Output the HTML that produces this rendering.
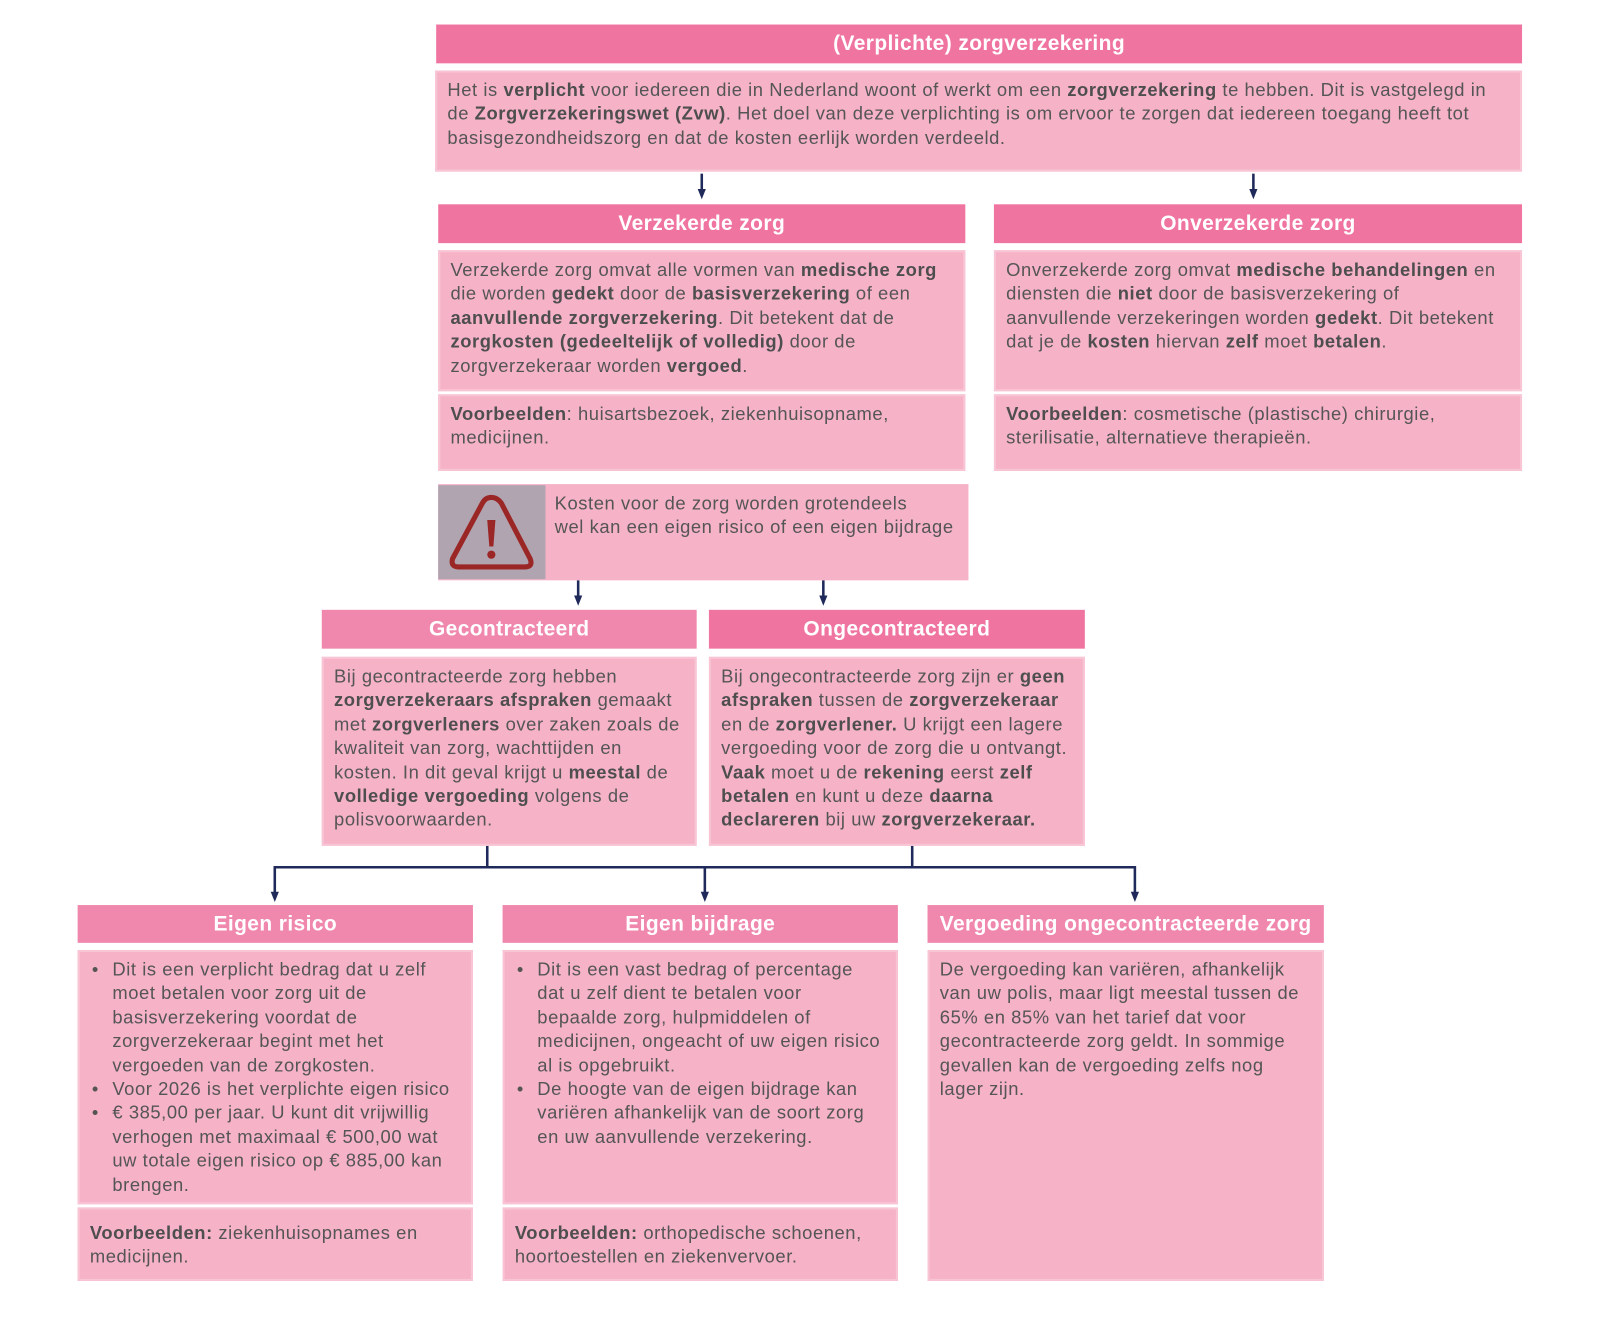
<!DOCTYPE html>
<html><head><meta charset="utf-8"><style>
html,body{margin:0;padding:0;background:#fff;width:1601px;height:1297px;overflow:hidden}
#w{position:absolute;left:0;top:0;width:1570px;height:1270px;transform:scale(1.0215);transform-origin:0 0;font-family:"Liberation Sans",Arial,sans-serif}
.h{position:absolute;color:#fff;font-weight:bold;font-size:20.5px;letter-spacing:0.4px;text-align:center;box-sizing:border-box;display:flex;align-items:center;justify-content:center}
.d{background:#F074A0}.l{background:#F088AD}
.b{position:absolute;background:#F6B3C8;border:2px solid #F8C5D5;box-sizing:border-box;color:#555;font-size:18px;line-height:23.4px;padding:6px 10px;white-space:nowrap;letter-spacing:0.55px}
.b b{color:#4e4e4e}
.li{position:relative;padding-left:22px}
.li:before{content:"•";position:absolute;left:2px}
svg{position:absolute;left:0;top:0}
</style></head><body><div id="w">
<svg width="1601" height="1297">
<g stroke="#1F2A5A" stroke-width="2.5" fill="none">
<line x1="687" y1="170" x2="687" y2="186"/>
<line x1="1227" y1="170" x2="1227" y2="186"/>
<line x1="566" y1="568" x2="566" y2="584"/>
<line x1="806" y1="568" x2="806" y2="584"/>
<line x1="477" y1="828" x2="477" y2="849"/>
<line x1="893" y1="828" x2="893" y2="849"/>
<polyline points="269,874 269,849 1111,849 1111,874"/>
<line x1="690" y1="849" x2="690" y2="874"/>
</g>
<g fill="#1F2A5A">
<polygon points="683,185 691,185 687,195"/>
<polygon points="1223,185 1231,185 1227,195"/>
<polygon points="562,583 570,583 566,593"/>
<polygon points="802,583 810,583 806,593"/>
<polygon points="265,873 273,873 269,883"/>
<polygon points="686,873 694,873 690,883"/>
<polygon points="1107,873 1115,873 1111,883"/>
</g></svg>

<div class="h d" style="left:427px;top:24px;width:1063px;height:38px">(Verplichte) zorgverzekering</div>
<div class="b" style="left:426px;top:69px;width:1064px;height:99px">Het is <b>verplicht</b> voor iedereen die in Nederland woont of werkt om een <b>zorgverzekering</b> te hebben. Dit is vastgelegd in<br>de <b>Zorgverzekeringswet (Zvw)</b>. Het doel van deze verplichting is om ervoor te zorgen dat iedereen toegang heeft tot<br>basisgezondheidszorg en dat de kosten eerlijk worden verdeeld.</div>

<div class="h d" style="left:429px;top:200px;width:516px;height:38px">Verzekerde zorg</div>
<div class="b" style="left:429px;top:245px;width:516px;height:138px">Verzekerde zorg omvat alle vormen van <b>medische zorg</b><br>die worden <b>gedekt</b> door de <b>basisverzekering</b> of een<br><b>aanvullende zorgverzekering</b>. Dit betekent dat de<br><b>zorgkosten (gedeeltelijk of volledig)</b> door de<br>zorgverzekeraar worden <b>vergoed</b>.</div>
<div class="b" style="left:429px;top:386px;width:516px;height:75px"><b>Voorbeelden</b>: huisartsbezoek, ziekenhuisopname,<br>medicijnen.</div>

<div class="h d" style="left:973px;top:200px;width:517px;height:38px">Onverzekerde zorg</div>
<div class="b" style="left:973px;top:245px;width:517px;height:138px">Onverzekerde zorg omvat <b>medische behandelingen</b> en<br>diensten die <b>niet</b> door de basisverzekering of<br>aanvullende verzekeringen worden <b>gedekt</b>. Dit betekent<br>dat je de <b>kosten</b> hiervan <b>zelf</b> moet <b>betalen</b>.</div>
<div class="b" style="left:973px;top:386px;width:517px;height:75px"><b>Voorbeelden</b>: cosmetische (plastische) chirurgie,<br>sterilisatie, alternatieve therapieën.</div>

<div class="b" style="left:429px;top:474px;width:519px;height:94px;padding:6px 8px 0 112px;border-color:#F6B3C8">Kosten voor de zorg worden grotendeels<br>wel kan een eigen risico of een eigen bijdrage</div>
<div style="position:absolute;left:429px;top:475px;width:105px;height:92px;background:#B0A4B0">
<svg width="105" height="92" viewBox="0 0 105 92"><path d="M52,12 Q46,12 43,18 L14,72 Q12,80 20,80 L85,80 Q93,80 90,72 L62,18 Q58,12 52,12 Z" fill="none" stroke="#9B2626" stroke-width="5" stroke-linejoin="round"/><path d="M48,34 L56,34 L54,60 L50,60 Z" fill="#9B2626"/><circle cx="52" cy="68" r="4" fill="#9B2626"/></svg></div>

<div class="h l" style="left:315px;top:597px;width:367px;height:38px">Gecontracteerd</div>
<div class="b" style="left:315px;top:643px;width:367px;height:185px">Bij gecontracteerde zorg hebben<br><b>zorgverzekeraars afspraken</b> gemaakt<br>met <b>zorgverleners</b> over zaken zoals de<br>kwaliteit van zorg, wachttijden en<br>kosten. In dit geval krijgt u <b>meestal</b> de<br><b>volledige vergoeding</b> volgens de<br>polisvoorwaarden.</div>
<div class="h d" style="left:694px;top:597px;width:368px;height:38px">Ongecontracteerd</div>
<div class="b" style="left:694px;top:643px;width:368px;height:185px">Bij ongecontracteerde zorg zijn er <b>geen</b><br><b>afspraken</b> tussen de <b>zorgverzekeraar</b><br>en de <b>zorgverlener.</b> U krijgt een lagere<br>vergoeding voor de zorg die u ontvangt.<br><b>Vaak</b> moet u de <b>rekening</b> eerst <b>zelf</b><br><b>betalen</b> en kunt u deze <b>daarna</b><br><b>declareren</b> bij uw <b>zorgverzekeraar.</b></div>

<div class="h l" style="left:76px;top:886px;width:387px;height:37px">Eigen risico</div>
<div class="b" style="left:76px;top:930px;width:387px;height:249px"><div class="li">Dit is een verplicht bedrag dat u zelf<br>moet betalen voor zorg uit de<br>basisverzekering voordat de<br>zorgverzekeraar begint met het<br>vergoeden van de zorgkosten.</div><div class="li">Voor 2026 is het verplichte eigen risico</div><div class="li">€ 385,00 per jaar. U kunt dit vrijwillig<br>verhogen met maximaal € 500,00 wat<br>uw totale eigen risico op € 885,00 kan<br>brengen.</div></div>
<div class="b" style="left:76px;top:1182px;width:387px;height:72px;padding-top:12px"><b>Voorbeelden:</b> ziekenhuisopnames en<br>medicijnen.</div>

<div class="h l" style="left:492px;top:886px;width:387px;height:37px">Eigen bijdrage</div>
<div class="b" style="left:492px;top:930px;width:387px;height:249px"><div class="li">Dit is een vast bedrag of percentage<br>dat u zelf dient te betalen voor<br>bepaalde zorg, hulpmiddelen of<br>medicijnen, ongeacht of uw eigen risico<br>al is opgebruikt.</div><div class="li">De hoogte van de eigen bijdrage kan<br>variëren afhankelijk van de soort zorg<br>en uw aanvullende verzekering.</div></div>
<div class="b" style="left:492px;top:1182px;width:387px;height:72px;padding-top:12px"><b>Voorbeelden:</b> orthopedische schoenen,<br>hoortoestellen en ziekenvervoer.</div>

<div class="h l" style="left:908px;top:886px;width:388px;height:37px">Vergoeding ongecontracteerde zorg</div>
<div class="b" style="left:908px;top:930px;width:388px;height:324px">De vergoeding kan variëren, afhankelijk<br>van uw polis, maar ligt meestal tussen de<br>65% en 85% van het tarief dat voor<br>gecontracteerde zorg geldt. In sommige<br>gevallen kan de vergoeding zelfs nog<br>lager zijn.</div>
</div></body></html>
